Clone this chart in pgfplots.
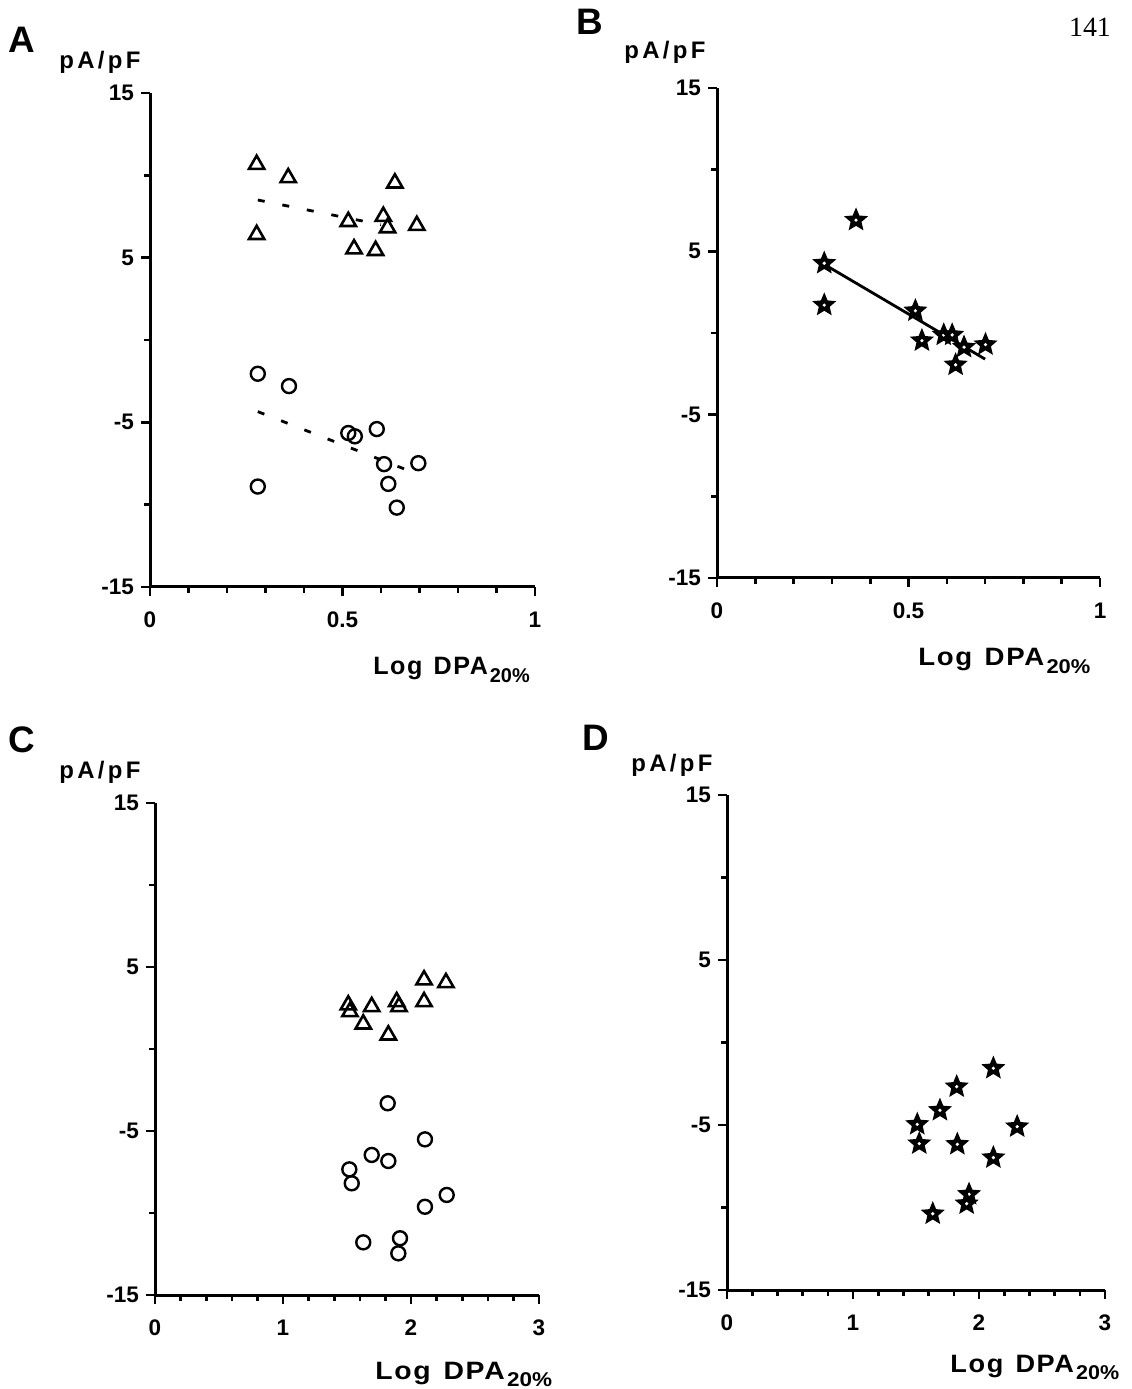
\documentclass[border=0pt]{standalone}
\usepackage{pgfplots}
\pgfplotsset{compat=1.18}
\usepackage{graphicx}
\usepackage{fontspec}
\setmainfont{Liberation Sans}
\newfontfamily\serifnum{Liberation Serif}
\newfontfamily\lspA[LetterSpace=14]{Liberation Sans}
\newfontfamily\lspB[LetterSpace=6]{Liberation Sans}

\pgfdeclareplotmark{pstar}{%
  \pgfpathmoveto{\pgfpointpolar{90}{\pgfplotmarksize}}%
  \pgfpathlineto{\pgfpointpolar{126}{0.45*\pgfplotmarksize}}%
  \pgfpathlineto{\pgfpointpolar{162}{\pgfplotmarksize}}%
  \pgfpathlineto{\pgfpointpolar{198}{0.45*\pgfplotmarksize}}%
  \pgfpathlineto{\pgfpointpolar{234}{\pgfplotmarksize}}%
  \pgfpathlineto{\pgfpointpolar{270}{0.45*\pgfplotmarksize}}%
  \pgfpathlineto{\pgfpointpolar{306}{\pgfplotmarksize}}%
  \pgfpathlineto{\pgfpointpolar{342}{0.45*\pgfplotmarksize}}%
  \pgfpathlineto{\pgfpointpolar{18}{\pgfplotmarksize}}%
  \pgfpathlineto{\pgfpointpolar{54}{0.45*\pgfplotmarksize}}%
  \pgfpathclose
  \pgfusepathqfillstroke
  \pgfscope
  \pgfsetfillcolor{white}%
  \pgfpathcircle{\pgfpointorigin}{0.9bp}%
  \pgfusepathqfill
  \endpgfscope
}

\newcommand\xlab{{\lspB\bfseries Log\hspace{0.45em}DPA}\hspace{0.08em}\raisebox{-0.55ex}{\bfseries\fontsize{10}{10}\selectfont 20\%}}

\begin{document}
\begin{tikzpicture}
\useasboundingbox (0bp,0bp) rectangle (566bp,694.5bp);
\pgfplotsset{
  panel/.style={
    scale only axis, anchor=south west,
    axis x line=bottom, axis y line=left,
    axis line style={-, line width=1.5bp},
    x axis line style={-}, y axis line style={-},
    tick align=outside, major tick length=4.5bp, minor tick length=2.8bp,
    every tick/.style={black, line width=1.3bp},
    ymin=-15, ymax=15, ytick={-15,-5,5,15}, yticklabels={-15,-5,5,15},
    minor ytick={-10,0,10},
    tick label style={font=\bfseries\fontsize{11.3}{12}\selectfont},
    xticklabel style={yshift=-4.5bp},
    clip=false,
  },
  smallx/.style={xmin=0, xmax=1, xtick={0,0.5,1}, xticklabels={0,0.5,1},
    minor xtick={0.1,0.2,0.3,0.4,0.6,0.7,0.8,0.9}},
  bigx/.style={xmin=0, xmax=3, xtick={0,1,2,3}, xticklabels={0,1,2,3},
    minor xtick={0.2,0.4,0.6,0.8,1.2,1.4,1.6,1.8,2.2,2.4,2.6,2.8}},
  tri/.style={only marks, mark=triangle, mark size=4.4bp, mark options={line width=1.3bp, black}},
  circ/.style={only marks, mark=o, mark size=3.5bp, mark options={line width=1.2bp, black}},
  starm/.style={only marks, mark=pstar, mark size=5.3bp, mark options={fill=black, draw=black, line width=0.8bp}},
}

% Panel A
\begin{axis}[panel, smallx, at={(75bp,401bp)}, width=192.5bp, height=247bp]
\addplot[tri] coordinates {
 (0.277,10.66) (0.359,9.85) (0.277,6.40) (0.636,9.53) (0.515,7.19)
 (0.606,7.50) (0.617,6.81) (0.693,6.95) (0.530,5.53) (0.586,5.43)};
\addplot[circ] coordinates {
 (0.280,-2.05) (0.361,-2.80) (0.280,-8.90) (0.515,-5.65) (0.532,-5.85)
 (0.589,-5.41) (0.608,-7.54) (0.697,-7.48) (0.619,-8.74) (0.641,-10.18)};
\addplot[black, line width=1.4bp, dash pattern=on 3.5bp off 9bp] coordinates {(0.28,8.5) (0.60,7.0)};
\addplot[black, line width=1.4bp, dash pattern=on 3.5bp off 9bp] coordinates {(0.28,-4.35) (0.69,-8.1)};
\end{axis}

% Panel B
\begin{axis}[panel, smallx, at={(358.5bp,405.5bp)}, width=191.5bp, height=245bp]
\addplot[starm] coordinates {
 (0.363,6.91) (0.280,4.27) (0.280,1.71) (0.518,1.36) (0.535,-0.47)
 (0.592,-0.12) (0.614,-0.12) (0.645,-0.87) (0.701,-0.71) (0.623,-1.95)};
\addplot[black, line width=1.4bp] coordinates {(0.28,4.2) (0.70,-1.6)};
\end{axis}

% Panel C
\begin{axis}[panel, bigx, at={(77.5bp,47bp)}, width=192bp, height=246bp]
\addplot[tri] coordinates {
 (1.510,2.68) (1.523,2.27) (1.693,2.58) (1.627,1.52) (1.888,2.88)
 (1.906,2.58) (2.102,4.21) (2.273,4.04) (2.102,2.88) (1.823,0.85)};
\addplot[circ] coordinates {
 (1.818,-3.31) (2.109,-5.51) (1.693,-6.46) (1.823,-6.83) (1.518,-7.34)
 (1.537,-8.19) (2.279,-8.90) (2.109,-9.62) (1.627,-11.79) (1.914,-11.54) (1.901,-12.46)};
\end{axis}

% Panel D
\begin{axis}[panel, bigx, at={(363.5bp,49.5bp)}, width=189bp, height=247.5bp]
\addplot[starm] coordinates {
 (2.114,-1.56) (1.823,-2.68) (1.690,-4.11) (1.510,-4.96) (1.526,-6.13)
 (1.828,-6.17) (2.303,-5.10) (2.114,-6.98) (1.921,-9.20) (1.902,-9.77) (1.633,-10.38)};
\end{axis}

% Texts
\tikzset{plab/.style={font=\fontsize{18.5}{20}\selectfont\bfseries},
         ulab/.style={font=\lspA\bfseries\fontsize{12}{13}\selectfont},
         xl/.style={font=\fontsize{12.6}{14}\selectfont, anchor=base west, inner sep=0pt}}
\node[plab] at (11bp,674.5bp) {A};
\node[plab] at (295bp,683.5bp) {B};
\node[plab] at (11bp,324.5bp) {C};
\node[plab] at (298bp,325.5bp) {D};
\node[ulab] at (50bp,663.5bp) {pA/pF};
\node[ulab] at (332.5bp,668.5bp) {pA/pF};
\node[ulab] at (50bp,308.5bp) {pA/pF};
\node[ulab] at (336bp,312bp) {pA/pF};
\node[xl] at (186.5bp,357bp) {\xlab};
\node[xl] at (459bp,361.5bp) {\scalebox{1.1}[1]{\xlab}};
\node[xl] at (187.5bp,5bp) {\scalebox{1.13}[1]{\xlab}};
\node[xl] at (475bp,8.5bp) {\scalebox{1.08}[1]{\xlab}};
\node[font=\serifnum\fontsize{14}{16}\selectfont] at (545bp,681bp) {141};
\end{tikzpicture}
\end{document}
